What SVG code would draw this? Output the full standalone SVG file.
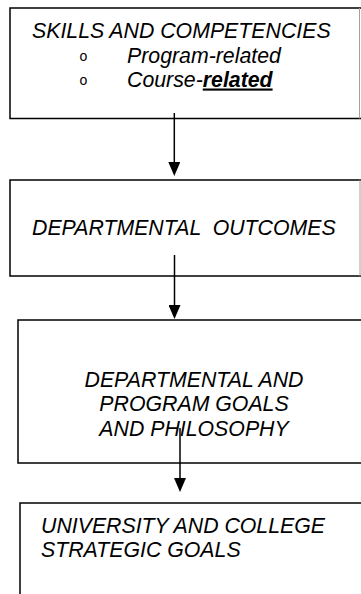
<svg xmlns="http://www.w3.org/2000/svg" width="361" height="594" viewBox="0 0 361 594">
<style>
  .box { fill: #ffffff; stroke: #000000; stroke-width: 1.5; }
  .edge { stroke: #a0a0a0; stroke-width: 1; }
  .t { font-family: "Liberation Sans", Arial, sans-serif; font-size: 21.3px; font-style: italic; fill: #000000; white-space: pre; }
  .b { font-family: "Liberation Sans", Arial, sans-serif; font-size: 14px; fill: #000000; }
  .c { stroke: #000000; stroke-width: 1.5; fill: none; }
</style>
<defs>
  <marker id="ah" viewBox="0 0 14 12" refX="0" refY="6" markerWidth="14" markerHeight="12" markerUnits="userSpaceOnUse" orient="auto">
    <path d="M0,0 L14,6 L0,12 z" fill="#000000"/>
  </marker>
</defs>
<rect width="361" height="594" fill="#ffffff"/>
<g id="node-skills">
  <rect class="box" x="10" y="8" width="355" height="110.5"/>
  <line class="edge" x1="359.5" y1="8" x2="359.5" y2="118.5"/>
  <text class="t" x="32" y="38">SKILLS AND COMPETENCIES</text>
  <text class="b" x="79.5" y="61.3">o</text>
  <text class="t" x="127" y="62.5">Program-related</text>
  <text class="b" x="79.5" y="85.3">o</text>
  <text class="t" x="127" y="86.5">Course-<tspan font-weight="bold" text-decoration="underline">related</tspan></text>
</g>
<g id="node-outcomes">
  <rect class="box" x="10" y="180" width="355" height="96"/>
  <line class="edge" x1="360" y1="180" x2="360" y2="276"/>
  <text class="t" x="32" y="235" xml:space="preserve">DEPARTMENTAL  OUTCOMES</text>
</g>
<g id="node-goals">
  <rect class="box" x="18" y="320" width="360" height="143"/>
  <text class="t" x="194" y="387" text-anchor="middle">DEPARTMENTAL AND</text>
  <text class="t" x="194" y="411" text-anchor="middle">PROGRAM GOALS</text>
  <text class="t" x="194" y="435.5" text-anchor="middle">AND PHILOSOPHY</text>
</g>
<g id="node-university">
  <rect class="box" x="20" y="503" width="360" height="110"/>
  <text class="t" x="41" y="533">UNIVERSITY AND COLLEGE</text>
  <text class="t" x="41" y="557">STRATEGIC GOALS</text>
</g>
<g id="connectors">
  <path class="c" d="M174.3,113 L174.3,162" marker-end="url(#ah)"/>
  <path class="c" d="M174.5,255 L174.5,305" marker-end="url(#ah)"/>
  <path class="c" d="M180,428 L180,478" marker-end="url(#ah)"/>
</g>
</svg>
